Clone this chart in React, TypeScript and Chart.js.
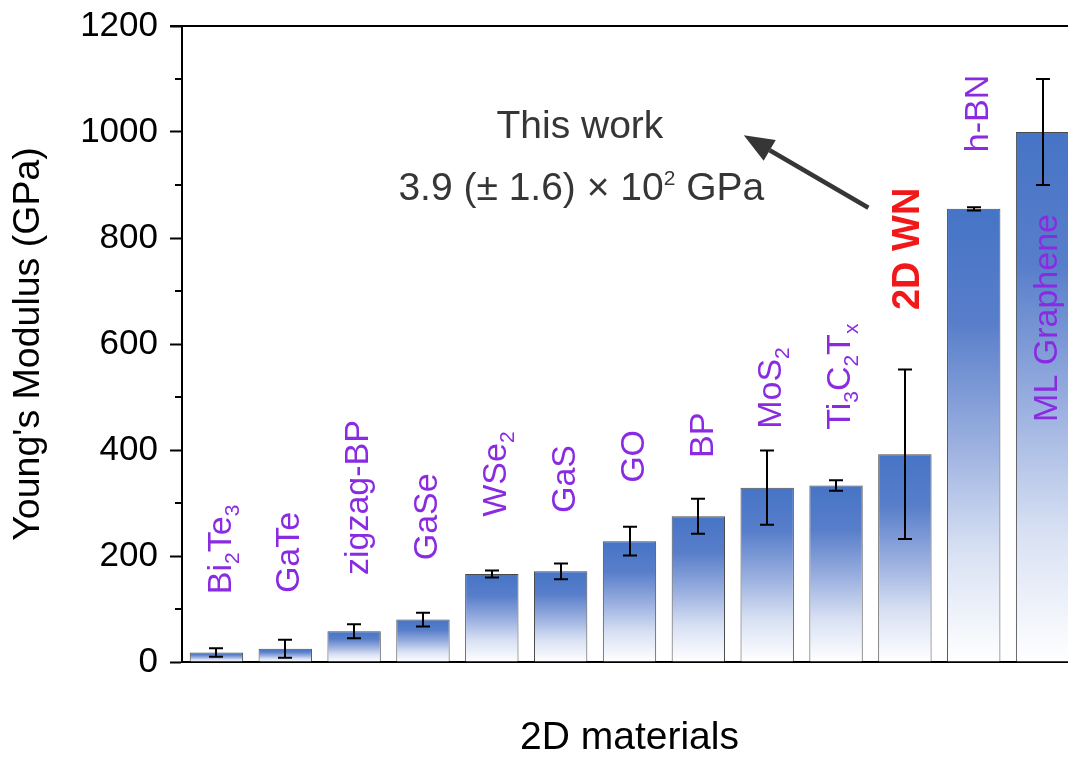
import React, { useEffect, useRef } from 'react';
import { Chart, registerables } from 'chart.js';

Chart.register(...registerables);

// ---- data ----
const categories = ['Bi_2Te_3', 'GaTe', 'zigzag-BP', 'GaSe', 'WSe_2', 'GaS', 'GO', 'BP', 'MoS_2', 'Ti_3C_2T_x', '2D WN', 'h-BN', 'ML Graphene'];
const modulus = [18, 25, 58, 80, 166, 171, 228, 275, 329, 333, 392, 855, 1000];
const modulusError = [8, 17, 13, 13, 6.5, 15, 27, 33, 70, 10, 160, 3, 100];
// height (GPa) at which each rotated label starts
const labelBase = [128, 130, 164, 192, 274, 281, 338, 385, 440, 438, 664, 962, 453];
const highlighted = '2D WN';
const yTicks = [0, 200, 400, 600, 800, 1000, 1200];
const yMinorTicks = [100, 300, 500, 700, 900, 1100];
const annotationTitle = 'This work';
const annotationValue = ['3.9 (± 1.6) × 10', '2', ' GPa'];

const FONT = '"Liberation Sans", Arial, Helvetica, sans-serif';
const PURPLE = '#8a2be2';
const RED = '#f01818';
const DARK = '#363636';

type Seg = { t: string; sub: boolean };
function parseRich(s: string): Seg[] {
  const out: Seg[] = [];
  let buf = '';
  for (let i = 0; i < s.length; i++) {
    if (s[i] === '_' && i + 1 < s.length) {
      if (buf) out.push({ t: buf, sub: false });
      buf = '';
      out.push({ t: s[i + 1], sub: true });
      i++;
    } else buf += s[i];
  }
  if (buf) out.push({ t: buf, sub: false });
  return out;
}

export default function App() {
  const ref = useRef<HTMLCanvasElement>(null);
  useEffect(() => {
    const canvas = ref.current!;

    const barGradient = (c: any) => {
      const chart = c.chart;
      const ys = chart.scales && chart.scales.y;
      const fallback = 'rgb(70,116,198)';
      if (!ys || c.type !== 'data') return fallback;
      const top = ys.getPixelForValue(modulus[c.dataIndex]);
      const bottom = ys.getPixelForValue(0);
      if (!isFinite(top) || !isFinite(bottom) || Math.abs(bottom - top) < 1) return fallback;
      const g = chart.ctx.createLinearGradient(0, top, 0, bottom);
      g.addColorStop(0, 'rgb(70,116,198)');
      g.addColorStop(0.25, 'rgb(88,126,202)');
      g.addColorStop(0.5, 'rgb(150,172,222)');
      g.addColorStop(0.75, 'rgb(215,224,243)');
      g.addColorStop(1, 'rgb(255,255,255)');
      return g;
    };

    const framePlugin = {
      id: 'frame',
      afterDraw(chart: any) {
        const { ctx, chartArea, scales } = chart;
        const y = scales.y;
        ctx.save();
        ctx.strokeStyle = '#000';
        ctx.lineWidth = 2;
        ctx.beginPath();
        ctx.moveTo(chartArea.left - 12, chartArea.top);
        ctx.lineTo(chartArea.right, chartArea.top);
        yMinorTicks.forEach((v) => {
          const py = Math.round(y.getPixelForValue(v));
          ctx.moveTo(chartArea.left - 7, py);
          ctx.lineTo(chartArea.left, py);
        });
        ctx.stroke();
        ctx.restore();
      },
    };

    const errorBarPlugin = {
      id: 'errorBars',
      afterDatasetsDraw(chart: any) {
        const { ctx, scales } = chart;
        const y = scales.y;
        const meta = chart.getDatasetMeta(0);
        ctx.save();
        ctx.strokeStyle = '#000';
        ctx.lineWidth = 2;
        meta.data.forEach((bar: any, i: number) => {
          const x = Math.round(bar.x);
          const hi = y.getPixelForValue(modulus[i] + modulusError[i]);
          const lo = y.getPixelForValue(modulus[i] - modulusError[i]);
          ctx.beginPath();
          ctx.moveTo(x, hi);
          ctx.lineTo(x, lo);
          ctx.moveTo(x - 7, hi);
          ctx.lineTo(x + 7, hi);
          ctx.moveTo(x - 7, lo);
          ctx.lineTo(x + 7, lo);
          ctx.stroke();
        });
        ctx.restore();
      },
    };

    const labelPlugin = {
      id: 'barLabels',
      afterDatasetsDraw(chart: any) {
        const { ctx, scales } = chart;
        const { x, y } = scales;
        categories.forEach((name, i) => {
          const isHi = name === highlighted;
          const size = isHi ? 38 : 34;
          const subSize = 21;
          const cx = x.getPixelForValue(i);
          const by = y.getPixelForValue(labelBase[i]);
          ctx.save();
          ctx.translate(cx + 34 * 0.716 / 2 + 2, by);
          ctx.rotate(-Math.PI / 2);
          ctx.fillStyle = isHi ? RED : PURPLE;
          ctx.textBaseline = 'alphabetic';
          ctx.textAlign = 'left';
          let pos = 0;
          parseRich(name).forEach((seg) => {
            ctx.font = `${isHi ? 'bold ' : ''}${seg.sub ? subSize : size}px ${FONT}`;
            ctx.fillText(seg.t, pos, seg.sub ? 8 : 0);
            pos += ctx.measureText(seg.t).width;
          });
          ctx.restore();
        });
      },
    };

    const annotationPlugin = {
      id: 'annotation',
      afterDraw(chart: any) {
        const { ctx, scales } = chart;
        const { x, y } = scales;
        ctx.save();
        ctx.fillStyle = DARK;
        ctx.textBaseline = 'alphabetic';
        ctx.font = `39px ${FONT}`;
        ctx.textAlign = 'center';
        ctx.fillText(annotationTitle, x.getPixelForValue(5.28), y.getPixelForValue(989));
        const cx = x.getPixelForValue(5.3);
        const base = y.getPixelForValue(872);
        const parts = annotationValue.map((t, k) => ({ t, f: k === 1 ? `21px ${FONT}` : `39px ${FONT}` }));
        let total = 0;
        parts.forEach((p) => {
          ctx.font = p.f;
          total += ctx.measureText(p.t).width;
        });
        let px = cx - total / 2;
        ctx.textAlign = 'left';
        parts.forEach((p, k) => {
          ctx.font = p.f;
          ctx.fillText(p.t, px, k === 1 ? base - 15 : base);
          px += ctx.measureText(p.t).width;
        });
        // arrow
        const x0 = x.getPixelForValue(9.47);
        const y0 = y.getPixelForValue(857);
        const x1 = x.getPixelForValue(7.66);
        const y1 = y.getPixelForValue(994);
        const ang = Math.atan2(y1 - y0, x1 - x0);
        const headLen = 30;
        const headHalf = 12;
        const bx = x1 - headLen * Math.cos(ang);
        const by = y1 - headLen * Math.sin(ang);
        ctx.strokeStyle = DARK;
        ctx.lineWidth = 4.5;
        ctx.beginPath();
        ctx.moveTo(x0, y0);
        ctx.lineTo(bx, by);
        ctx.stroke();
        ctx.beginPath();
        ctx.moveTo(x1, y1);
        ctx.lineTo(bx + headHalf * Math.sin(ang), by - headHalf * Math.cos(ang));
        ctx.lineTo(bx - headHalf * Math.sin(ang), by + headHalf * Math.cos(ang));
        ctx.closePath();
        ctx.fill();
        ctx.restore();
      },
    };

    const chart = new Chart(canvas, {
      type: 'bar',
      data: {
        labels: categories.map((c) => c.replace(/_/g, '')),
        datasets: [
          {
            data: modulus,
            backgroundColor: barGradient,
            borderColor: '#4a4a4a',
            borderWidth: 1,
            categoryPercentage: 1,
            barPercentage: 0.775,
          },
        ],
      },
      options: {
        animation: false,
        responsive: false,
        devicePixelRatio: 1,
        layout: { padding: { top: 26, left: 6, right: 0, bottom: 0 } },
        plugins: { legend: { display: false }, tooltip: { enabled: false } },
        scales: {
          x: {
            offset: true,
            grid: { display: true, drawOnChartArea: false, drawTicks: false },
            border: { display: true, color: '#000', width: 2 },
            ticks: { display: false },
            title: {
              display: true,
              text: '2D materials',
              color: '#000',
              font: { family: FONT, size: 39, lineHeight: 1.1 },
              padding: { top: 0, bottom: 0 },
            },
            afterFit: (s: any) => {
              s.height = 98;
              s.paddingLeft = 0;
              s.paddingRight = 0;
            },
          },
          y: {
            min: 0,
            max: 1200,
            afterBuildTicks: (s: any) => {
              s.ticks = yTicks.map((v) => ({ value: v }));
            },
            grid: { drawOnChartArea: false, drawTicks: true, tickLength: 12, tickColor: '#000', tickWidth: 2 },
            border: { display: true, color: '#000', width: 2 },
            ticks: {
              color: '#000',
              padding: 12,
              font: { family: FONT, size: 35 },
              callback: (v: any) => String(v),
            },
            title: {
              display: true,
              text: "Young's Modulus (GPa)",
              color: '#000',
              font: { family: FONT, size: 37.5, lineHeight: 1.1 },
              padding: { top: 2, bottom: 0 },
            },
            afterFit: (s: any) => {
              s.width = 176;
              s.paddingTop = 0;
              s.paddingBottom = 0;
            },
          },
        },
      },
      plugins: [framePlugin, errorBarPlugin, labelPlugin, annotationPlugin],
    });
    return () => chart.destroy();
  }, []);

  return (
    <div style={{ position: 'fixed', left: 0, top: 0, width: 1068, height: 760, overflow: 'hidden', background: '#fff' }}>
      <canvas ref={ref} width={1077} height={760} style={{ display: 'block', width: 1077, height: 760 }} />
    </div>
  );
}
